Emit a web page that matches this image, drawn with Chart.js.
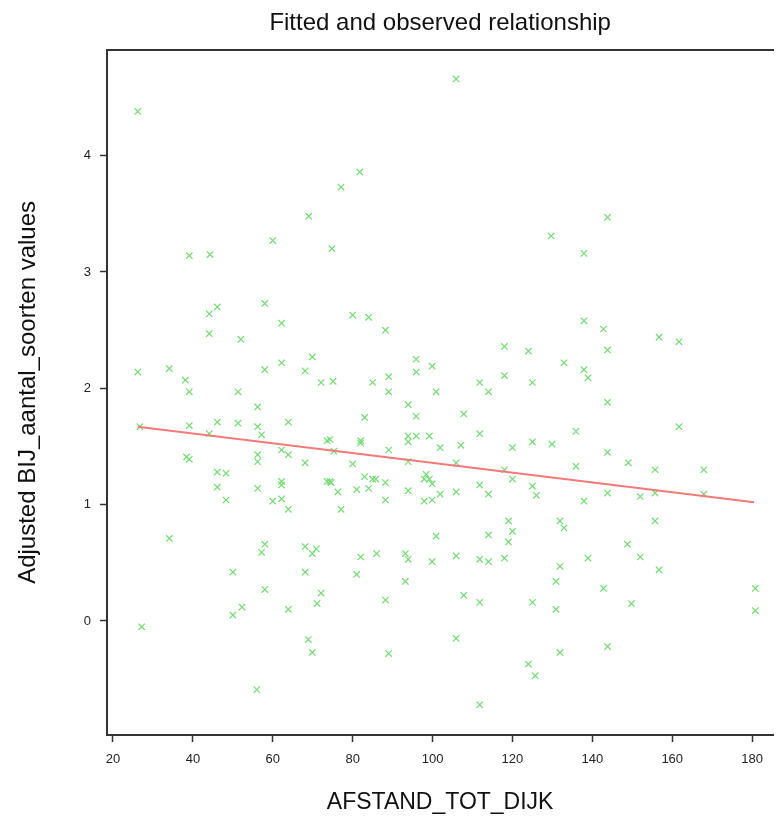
<!DOCTYPE html>
<html>
<head>
<meta charset="utf-8">
<script src="https://cdn.jsdelivr.net/npm/chart.js@4.4.1/dist/chart.umd.min.js"></script>
<style>
  html, body { margin: 0; padding: 0; background: #fff; }
</style>
</head>
<body>
<canvas id="chart" width="779" height="816"></canvas>
<script>
// observed points (AFSTAND_TOT_DIJK, adjusted value)
const obsX = [
  26.2, 105.9, 81.8, 77.1, 74.8, 69.0, 60.0, 39.1, 44.3, 129.7, 137.9, 143.8,
  26.2, 34.1, 38.1, 39.1, 44.1, 46.1, 44.1, 52.0, 58.0, 62.2, 62.2, 58.0,
  69.9, 68.1, 72.1, 51.3, 56.2, 63.9, 51.3, 46.1, 39.1, 26.7, 44.1, 56.2,
  57.2, 73.6, 62.2, 63.9, 56.2, 56.2, 38.4, 39.1, 68.1, 73.6, 46.1, 48.3,
  46.1, 48.3, 56.2, 62.2, 62.2, 60.0, 62.2, 63.9,
  80.0, 84.0, 88.2, 118.0, 124.0, 95.9, 95.9, 99.9, 89.0, 118.0, 75.1, 85.0,
  89.0, 100.9, 111.8, 114.0, 125.0, 93.9, 95.9, 83.0, 107.8, 111.8, 74.3, 82.0,
  82.0, 93.9, 93.9, 95.9, 99.2, 101.9, 107.1, 120.0, 125.0, 75.3, 89.0, 80.0,
  93.9, 105.9, 118.0, 74.3, 74.6, 83.0, 85.0, 85.8, 88.2, 98.4, 99.2, 97.9,
  99.9, 111.8, 120.0, 125.0, 76.3, 81.0, 84.0, 93.9, 101.9, 105.9, 114.0, 126.0,
  88.2, 97.9, 99.9, 77.1, 119.0,
  137.9, 142.8, 156.7, 161.7, 143.8, 132.9, 137.9, 138.9, 143.8, 161.7, 135.9, 129.9,
  143.8, 149.0, 155.7, 167.9, 135.9, 143.8, 152.0, 155.7, 167.9, 137.9, 131.9, 132.9,
  155.7,
  34.1, 58.0, 57.2, 68.1, 70.9, 69.9, 50.0, 68.1, 58.0, 72.1, 71.1, 52.3,
  50.0, 63.9, 27.2, 68.9, 69.9, 56.0,
  100.9, 114.0, 120.0, 119.0, 82.0, 86.0, 93.2, 93.9, 99.9, 105.9, 111.8, 114.0,
  118.0, 81.0, 93.2, 88.2, 107.8, 111.8, 125.0, 105.9, 89.0, 124.0, 125.7, 111.8,
  148.8, 138.9, 152.0, 131.9, 156.7, 130.9, 142.8, 180.8, 130.9, 149.8, 180.8, 143.8,
  131.9
];
const obsY = [
  4.38, 4.66, 3.86, 3.73, 3.20, 3.48, 3.27, 3.14, 3.15, 3.31, 3.16, 3.47,
  2.14, 2.17, 2.07, 1.97, 2.64, 2.70, 2.47, 2.42, 2.73, 2.56, 2.22, 2.16,
  2.27, 2.15, 2.05, 1.97, 1.84, 1.71, 1.70, 1.71, 1.68, 1.67, 1.61, 1.67,
  1.60, 1.55, 1.47, 1.43, 1.43, 1.37, 1.41, 1.39, 1.36, 1.20, 1.28, 1.27,
  1.15, 1.04, 1.14, 1.20, 1.17, 1.03, 1.05, 0.96,
  2.63, 2.61, 2.50, 2.36, 2.32, 2.25, 2.14, 2.19, 2.10, 2.11, 2.06, 2.05,
  1.97, 1.97, 2.05, 1.97, 2.05, 1.86, 1.76, 1.75, 1.78, 1.61, 1.56, 1.55,
  1.53, 1.59, 1.54, 1.59, 1.59, 1.49, 1.51, 1.49, 1.54, 1.46, 1.47, 1.35,
  1.37, 1.36, 1.30, 1.20, 1.19, 1.24, 1.22, 1.22, 1.19, 1.26, 1.22, 1.22,
  1.18, 1.17, 1.22, 1.16, 1.11, 1.13, 1.14, 1.12, 1.09, 1.11, 1.09, 1.08,
  1.04, 1.03, 1.04, 0.96, 0.86,
  2.58, 2.51, 2.44, 2.40, 2.33, 2.22, 2.16, 2.09, 1.88, 1.67, 1.63, 1.52,
  1.45, 1.36, 1.30, 1.30, 1.33, 1.10, 1.07, 1.10, 1.09, 1.03, 0.86, 0.80,
  0.86,
  0.71, 0.66, 0.59, 0.64, 0.62, 0.58, 0.42, 0.42, 0.27, 0.24, 0.15, 0.12,
  0.05, 0.10, -0.05, -0.16, -0.27, -0.59,
  0.73, 0.74, 0.77, 0.68, 0.55, 0.58, 0.58, 0.53, 0.51, 0.56, 0.53, 0.51,
  0.54, 0.40, 0.34, 0.18, 0.22, 0.16, 0.16, -0.15, -0.28, -0.37, -0.47, -0.72,
  0.66, 0.54, 0.55, 0.47, 0.44, 0.34, 0.28, 0.28, 0.10, 0.15, 0.09, -0.22,
  -0.27
];

// fitted line end points
const fitX = [26.2, 180.5];
const fitY = [1.67, 1.02];

const xTicks = [20, 40, 60, 80, 100, 120, 140, 160, 180];
const yTicks = [0, 1, 2, 3, 4];

const X_MIN = 18.5, X_MAX = 185.3;
const Y_MIN = -0.98, Y_MAX = 4.91;

Chart.defaults.font.family = '"Liberation Sans", Arial, sans-serif';
Chart.defaults.color = "#222";

const C_GREEN = "#72dc72";
const C_RED = "#f27a7a";
const axisCol = "#333";

new Chart(document.getElementById("chart"), {
  type: "scatter",
  data: {
    datasets: [
      {
        label: "Observed",
        data: obsX.map((x, i) => ({ x: x, y: obsY[i] })),
        pointStyle: "crossRot",
        pointRadius: 4.5,
        borderColor: C_GREEN,
        borderWidth: 1.2,
        showLine: false,
        order: 2,
      },
      {
        type: "line",
        label: "Fitted",
        data: fitX.map((x, i) => ({ x: x, y: fitY[i] })),
        borderColor: C_RED,
        borderWidth: 2,
        pointRadius: 0,
        fill: false,
        order: 1,
      },
    ],
  },
  options: {
    responsive: false,
    animation: false,
    devicePixelRatio: 1,
    layout: { padding: 0 },
    plugins: {
      legend: { display: false },
      tooltip: { enabled: false },
      title: {
        display: true,
        fullSize: false,
        text: "Fitted and observed relationship",
        color: "#111",
        font: { size: 24, weight: "normal" },
        padding: { top: 9, bottom: 12 },
      },
    },
    scales: {
      x: {
        type: "linear",
        position: "bottom",
        min: X_MIN,
        max: X_MAX,
        afterBuildTicks: (s) => { s.ticks = xTicks.map((v) => ({ value: v })); },
        afterFit: (s) => { s.height = 81; },
        grid: { display: true, drawOnChartArea: false, drawTicks: true, tickLength: 7, tickColor: axisCol, tickWidth: 1.5 },
        border: { display: true, color: axisCol, width: 2 },
        ticks: { font: { size: 13 }, padding: 10, maxRotation: 0, autoSkip: false, color: "#222" },
        title: {
          display: true,
          text: "AFSTAND_TOT_DIJK",
          color: "#111",
          font: { size: 23 },
          padding: { top: 0, bottom: 0 },
        },
      },
      xTop: {
        type: "linear",
        position: "top",
        min: X_MIN,
        max: X_MAX,
        afterFit: (s) => { s.height = 0; },
        ticks: { display: false },
        grid: { display: true, drawOnChartArea: false, drawTicks: false },
        border: { display: true, color: axisCol, width: 2 },
      },
      y: {
        type: "linear",
        position: "left",
        min: Y_MIN,
        max: Y_MAX,
        afterBuildTicks: (s) => { s.ticks = yTicks.map((v) => ({ value: v })); },
        afterFit: (s) => { s.width = 107; },
        grid: { display: true, drawOnChartArea: false, drawTicks: true, tickLength: 7, tickColor: axisCol, tickWidth: 1.5 },
        border: { display: true, color: axisCol, width: 2 },
        ticks: { font: { size: 13 }, padding: 9, color: "#222" },
        title: {
          display: true,
          text: "Adjusted BIJ_aantal_soorten values",
          color: "#111",
          font: { size: 24 },
          padding: { top: 14, bottom: 0 },
        },
      },
    },
  },
});
</script>
</body>
</html>
